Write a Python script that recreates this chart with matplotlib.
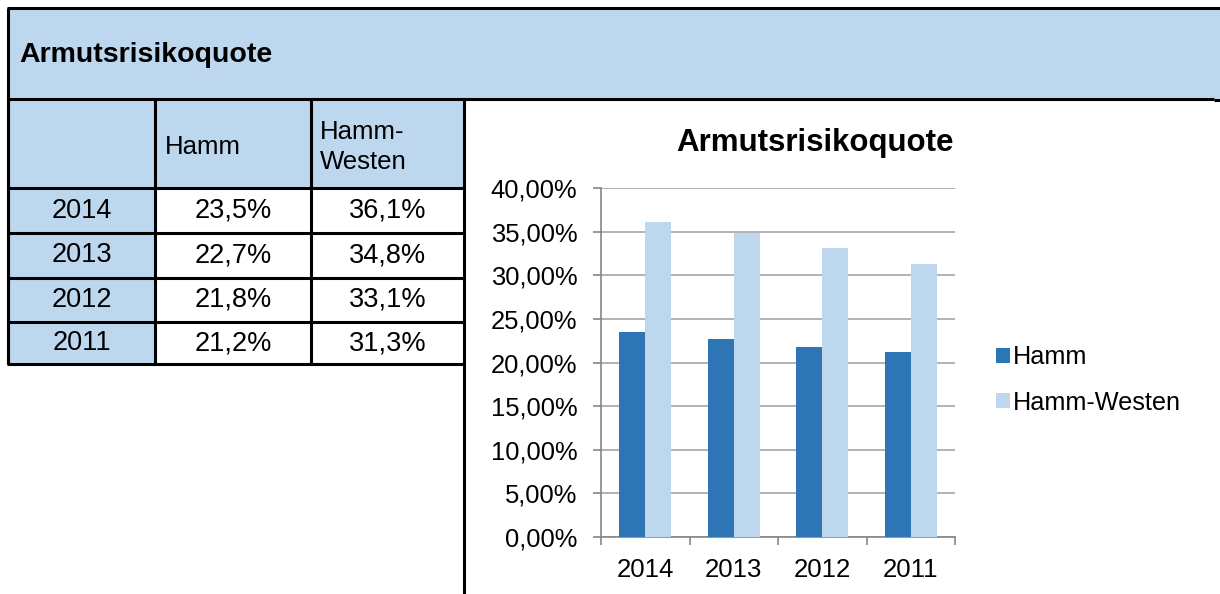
import matplotlib.pyplot as plt
from matplotlib.patches import Rectangle

plt.rcParams['font.family'] = ['Liberation Sans', 'DejaVu Sans']

years = ['2014', '2013', '2012', '2011']
hamm = [23.5, 22.7, 21.8, 21.2]
westen = [36.1, 34.8, 33.1, 31.3]
series_names = ['Hamm', 'Hamm-Westen']
title = 'Armutsrisikoquote'
yticks = [0, 5, 10, 15, 20, 25, 30, 35, 40]

dark = '#2E75B6'
light = '#BDD7EE'
W, H = 1220, 594

fig = plt.figure(figsize=(W / 100, H / 100), dpi=100)

# overlay in pixel coordinates for the table part
bg = fig.add_axes([0, 0, 1, 1])
bg.set_xlim(0, W)
bg.set_ylim(H, 0)
bg.axis('off')

lw = 2.2
# header band
bg.add_patch(Rectangle((8, 8), W - 8, 91, facecolor=light, edgecolor='none'))
bg.plot([7, W], [8, 8], color='black', lw=lw, solid_capstyle='butt')
bg.plot([8, 8], [8, 364], color='black', lw=lw, solid_capstyle='butt')
bg.plot([7, 1214], [99, 99], color='black', lw=lw, solid_capstyle='butt')
bg.plot([1214, W], [100, 100], color='black', lw=lw, solid_capstyle='butt')
bg.text(19, 55, title, fontsize=20.5, fontweight='bold', va='center', ha='left')

# table
cols = [8, 155, 311, 464]
rows = [99, 188, 233, 278, 322, 364]
bg.add_patch(Rectangle((8, 99), 456, 89, facecolor=light, edgecolor='none'))
bg.add_patch(Rectangle((8, 188), 147, 176, facecolor=light, edgecolor='none'))
for x in cols[:-1]:
    bg.plot([x, x], [99, 364], color='black', lw=lw, solid_capstyle='butt')
bg.plot([464, 464], [99, H], color='black', lw=lw, solid_capstyle='butt')
for y in rows[1:]:
    bg.plot([7, 465], [y, y], color='black', lw=lw, solid_capstyle='butt')

bg.text(165, 147, series_names[0], fontsize=18.5, va='center', ha='left')
bg.text(320, 147, 'Hamm-\nWesten', fontsize=18.5, va='center', ha='left',
        linespacing=1.3)
for i, yr in enumerate(years):
    yc = (rows[i + 1] + rows[i + 2]) / 2
    bg.text((cols[0] + cols[1]) / 2, yc, yr, fontsize=19.5, ha='center', va='center')
    bg.text((cols[1] + cols[2]) / 2, yc, f'{hamm[i]:.1f}%'.replace('.', ','),
            fontsize=19.5, ha='center', va='center')
    bg.text((cols[2] + cols[3]) / 2, yc, f'{westen[i]:.1f}%'.replace('.', ','),
            fontsize=19.5, ha='center', va='center')

# chart
ax = fig.add_axes([601 / W, 57 / H, 354 / W, 349 / H])
x = list(range(len(years)))
bw = 0.295
ax.bar([i - bw / 2 for i in x], hamm, width=bw, color=dark, label=series_names[0], zorder=3)
ax.bar([i + bw / 2 for i in x], westen, width=bw, color=light, label=series_names[1], zorder=3)

ax.set_xlim(-0.5, len(years) - 0.5)
ax.set_ylim(0, 40)
ax.set_yticks(yticks)
ax.set_yticklabels([f'{v:.2f}%'.replace('.', ',') for v in yticks], fontsize=18.4)
ax.set_xticks(x)
ax.set_xticklabels(years, fontsize=18.5)
ax.set_xticks([i - 0.5 for i in range(len(years) + 1)], minor=True)
ax.tick_params(axis='x', which='major', length=0, pad=15)
ax.tick_params(axis='x', which='minor', length=6, width=1.2, color='#868686')
ax.tick_params(axis='y', length=6, width=1.2, color='#868686', pad=11)
ax.grid(axis='y', color='#A6A6A6', lw=1.2, zorder=0)
for s in ['top', 'right']:
    ax.spines[s].set_visible(False)
for s in ['left', 'bottom']:
    ax.spines[s].set_color('#868686')
    ax.spines[s].set_linewidth(1.2)

fig.text(815 / W, (H - 143) / H, title, fontsize=22.5, fontweight='bold',
         ha='center', va='center')
fig.legend(loc='center left', bbox_to_anchor=(983 / W, (H - 380) / H),
           frameon=False, fontsize=18.2, handlelength=0.55, handleheight=0.55,
           handletextpad=0.15, labelspacing=0.85, borderpad=0)

fig.savefig('out.png', dpi=100)
